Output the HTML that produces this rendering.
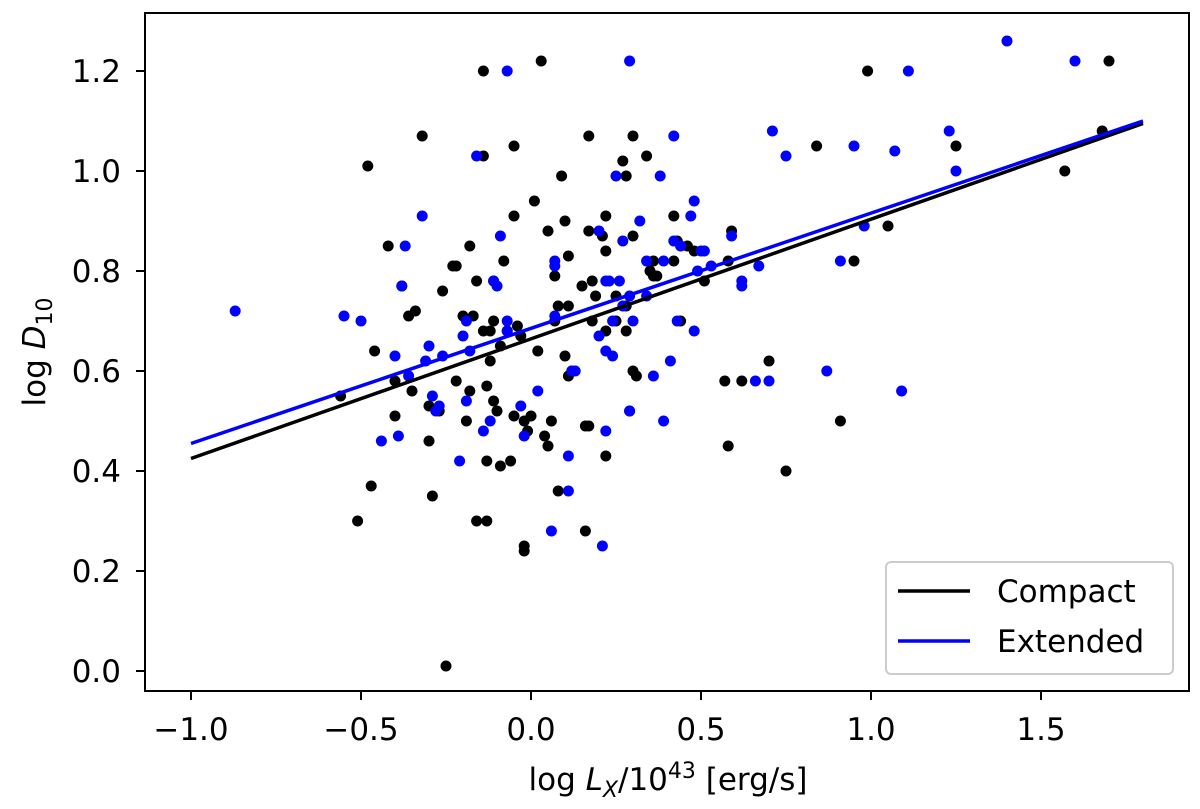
<!DOCTYPE html>
<html><head><meta charset="utf-8"><style>
html,body{margin:0;padding:0;background:#fff;}
svg{display:block;font-family:"DejaVu Sans","Liberation Sans",sans-serif;}
</style></head><body>
<svg id="chart" width="1200" height="809" viewBox="0 0 1200 809"></svg>
<script>
const xTicks=[-1.0,-0.5,0.0,0.5,1.0,1.5];
const xTickLabels=["\u22121.0","\u22120.5","0.0","0.5","1.0","1.5"];
const yTicks=[0.0,0.2,0.4,0.6,0.8,1.0,1.2];
const yTickLabels=["0.0","0.2","0.4","0.6","0.8","1.0","1.2"];
const compactX=[-0.14,0.03,0.99,1.70,-0.32,-0.48,-0.05,-0.14,0.17,0.30,0.27,0.34,0.28,0.09,0.01,-0.05,0.10,0.22,0.17,0.42,0.84,1.25,1.68,1.57,1.05,0.95,0.59,0.46,0.48,0.58,0.51,0.43,0.30,0.21,0.22,0.18,0.15,0.36,0.37,0.25,0.19,0.28,0.25,0.28,0.22,0.18,0.11,0.08,0.07,0.11,0.05,-0.08,-0.11,-0.16,-0.18,-0.22,-0.11,-0.14,-0.12,-0.20,-0.17,-0.07,-0.04,-0.03,-0.09,-0.12,-0.22,-0.18,-0.13,-0.11,-0.10,-0.05,-0.02,0.00,-0.01,0.04,0.06,0.05,0.02,0.10,0.12,0.11,0.07,0.17,0.16,0.22,0.30,0.31,0.29,0.42,0.35,0.36,0.44,-0.36,-0.34,-0.42,-0.38,-0.46,-0.40,-0.35,-0.40,-0.30,-0.30,-0.27,-0.26,-0.23,-0.29,-0.47,-0.51,-0.56,-0.19,-0.16,-0.13,-0.13,-0.09,-0.06,-0.02,-0.02,0.08,0.16,0.57,0.62,0.70,0.58,0.75,0.91,-0.25];
const compactY=[1.20,1.22,1.20,1.22,1.07,1.01,1.05,1.03,1.07,1.07,1.02,1.03,0.99,0.99,0.94,0.91,0.90,0.91,0.88,0.91,1.05,1.05,1.08,1.00,0.89,0.82,0.88,0.85,0.84,0.82,0.78,0.86,0.87,0.87,0.84,0.78,0.77,0.82,0.79,0.75,0.75,0.73,0.70,0.68,0.68,0.70,0.73,0.73,0.79,0.83,0.88,0.82,0.78,0.78,0.85,0.81,0.70,0.68,0.68,0.71,0.71,0.68,0.69,0.67,0.65,0.62,0.58,0.56,0.57,0.54,0.52,0.51,0.50,0.51,0.48,0.47,0.50,0.45,0.64,0.63,0.60,0.59,0.70,0.49,0.49,0.43,0.60,0.59,0.52,0.82,0.80,0.79,0.70,0.71,0.72,0.85,0.77,0.64,0.58,0.56,0.51,0.53,0.46,0.52,0.76,0.81,0.35,0.37,0.30,0.55,0.50,0.30,0.30,0.42,0.41,0.42,0.25,0.24,0.36,0.28,0.58,0.58,0.62,0.45,0.40,0.50,0.01];
const extendedX=[-0.07,0.29,1.40,1.60,1.11,-0.16,0.42,0.71,1.23,1.25,0.95,1.07,0.75,0.38,0.25,0.48,0.47,-0.32,-0.37,-0.09,0.32,0.27,0.20,0.42,0.44,0.50,0.51,0.59,0.98,0.53,0.49,0.62,0.62,0.67,0.91,0.39,0.34,0.22,0.23,0.26,0.07,0.07,-0.38,-0.10,-0.11,0.29,0.27,0.34,0.30,0.24,0.20,0.22,0.12,0.07,-0.07,-0.07,-0.19,-0.20,-0.18,-0.26,-0.30,-0.31,-0.40,-0.55,-0.50,-0.87,-0.36,-0.29,-0.28,-0.27,-0.19,-0.12,-0.14,-0.03,-0.02,0.02,0.13,0.22,0.24,0.29,0.36,0.41,0.43,0.48,0.66,0.70,0.87,1.09,0.39,0.11,0.11,0.06,0.21,-0.44,-0.39,-0.21];
const extendedY=[1.20,1.22,1.26,1.22,1.20,1.03,1.07,1.08,1.08,1.00,1.05,1.04,1.03,0.99,0.99,0.94,0.91,0.91,0.85,0.87,0.90,0.86,0.88,0.86,0.85,0.84,0.84,0.87,0.89,0.81,0.80,0.78,0.77,0.81,0.82,0.82,0.82,0.78,0.78,0.78,0.82,0.81,0.77,0.77,0.78,0.75,0.73,0.75,0.70,0.70,0.67,0.64,0.60,0.71,0.70,0.68,0.70,0.67,0.64,0.63,0.65,0.62,0.63,0.71,0.70,0.72,0.59,0.55,0.52,0.53,0.54,0.50,0.48,0.53,0.47,0.56,0.60,0.48,0.63,0.52,0.59,0.62,0.70,0.68,0.58,0.58,0.60,0.56,0.50,0.43,0.36,0.28,0.25,0.46,0.47,0.42];
const fitX=[-1.0,1.8];
const compactFitY=[0.425,1.095];
const extendedFitY=[0.455,1.100];

const NS="http://www.w3.org/2000/svg";
const svg=document.getElementById('chart');
const L=145,R=1189,T=13,B=691;
function sx(v){return 531+v*340;}
function sy(v){return 671-v*500;}
function mk(tag,attrs,parent){const e=document.createElementNS(NS,tag);for(const k in attrs)e.setAttribute(k,attrs[k]);(parent||svg).appendChild(e);return e;}

const ptsG=mk('g',{});


for(let i=0;i<compactX.length;i++){
  const c=mk('circle',{cx:sx(compactX[i]),cy:sy(compactY[i]),r:5.5,fill:'#000'},ptsG);
  
  
}
for(let i=0;i<extendedX.length;i++){
  const c=mk('circle',{cx:sx(extendedX[i]),cy:sy(extendedY[i]),r:5.5,fill:'#0000ff'},ptsG);
  
  
}
const l1=mk('line',{x1:sx(fitX[0]),y1:sy(compactFitY[0]),x2:sx(fitX[1]),y2:sy(compactFitY[1]),stroke:'#000','stroke-width':3.5});


const l2=mk('line',{x1:sx(fitX[0]),y1:sy(extendedFitY[0]),x2:sx(fitX[1]),y2:sy(extendedFitY[1]),stroke:'#0000ff','stroke-width':3.5});



const frame=mk('rect',{x:L,y:T,width:R-L,height:B-T,fill:'none',stroke:'#000','stroke-width':2});



for(let i=0;i<xTicks.length;i++){
  const x=sx(xTicks[i]);
  mk('line',{x1:x,y1:B,x2:x,y2:B+9,stroke:'#000','stroke-width':2});
  const t=mk('text',{x:x,y:740,'text-anchor':'middle','font-size':31,fill:'#000'});
  t.textContent=xTickLabels[i];
  
  
}
for(let i=0;i<yTicks.length;i++){
  const y=sy(yTicks[i]);
  mk('line',{x1:L-9,y1:y,x2:L,y2:y,stroke:'#000','stroke-width':2});
  const t=mk('text',{x:L-24,y:y+11,'text-anchor':'end','font-size':31,fill:'#000'});
  t.textContent=yTickLabels[i];
  
  
}
</script>
<svg style="position:absolute;left:0;top:0" width="1200" height="809">
<text x="668" y="790" text-anchor="middle" font-size="31" font-family="DejaVu Sans, Liberation Sans, sans-serif">log <tspan font-style="italic">L</tspan><tspan font-style="italic" font-size="22" dy="7">X</tspan><tspan dy="-7">/10</tspan><tspan font-size="22" dy="-12">43</tspan><tspan dy="12"> [erg/s]</tspan></text>
<text transform="translate(45,352) rotate(-90)" text-anchor="middle" font-size="31" font-family="DejaVu Sans, Liberation Sans, sans-serif">log <tspan font-style="italic">D</tspan><tspan font-size="22" dy="7">10</tspan></text>
<g>
<rect x="886" y="562" width="287" height="112" rx="5" fill="#fff" fill-opacity="0.85" stroke="#ccc" stroke-width="2"/>
<line x1="898" y1="591" x2="970" y2="591" stroke="#000" stroke-width="3.5"/>
<text x="997" y="602" font-size="31" font-family="DejaVu Sans, Liberation Sans, sans-serif">Compact</text>
<line x1="898" y1="641" x2="970" y2="641" stroke="#0000ff" stroke-width="3.5"/>
<text x="997" y="652" font-size="31" font-family="DejaVu Sans, Liberation Sans, sans-serif">Extended</text>
</g>
</svg>
</body></html>
